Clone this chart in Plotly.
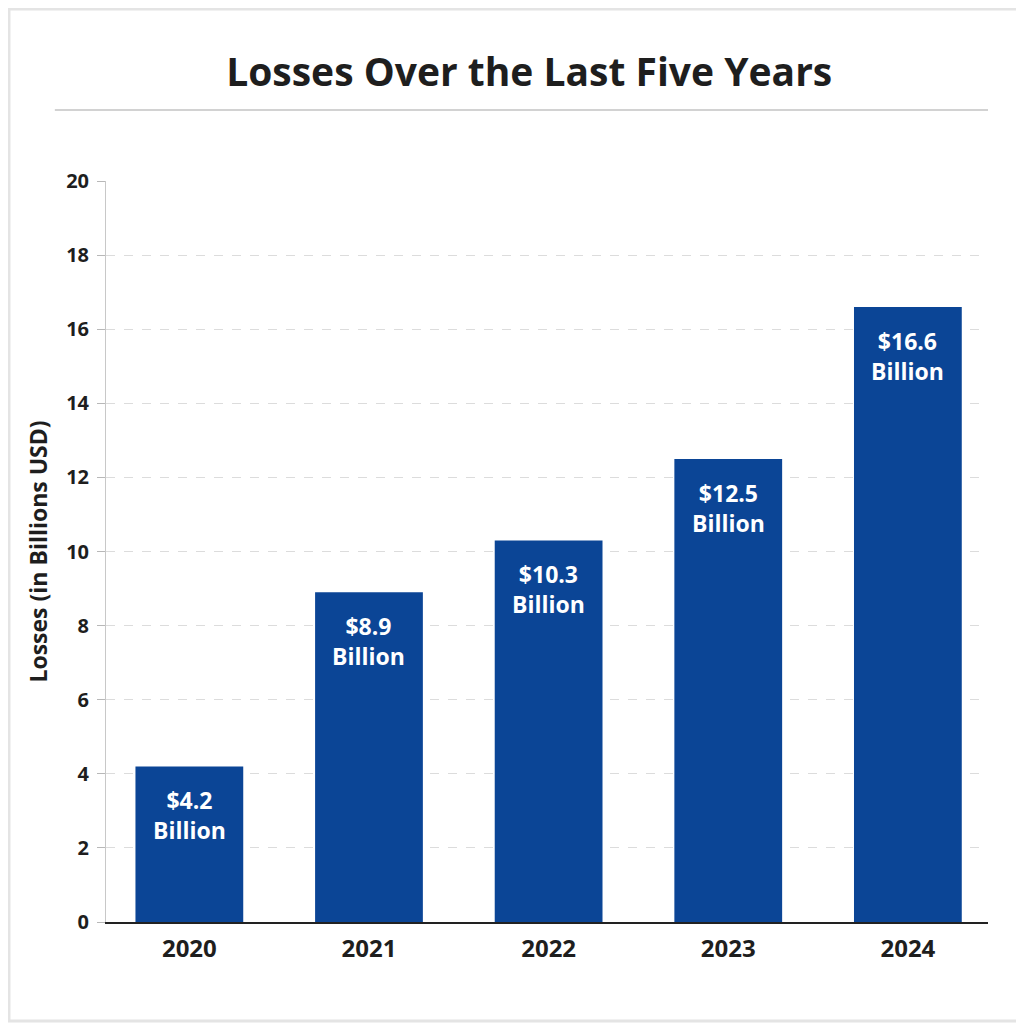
import plotly.graph_objects as go

years = ['2020', '2021', '2022', '2023', '2024']
losses = [4.2, 8.9, 10.3, 12.5, 16.6]
bar_labels = [f'${v}<br>Billion' for v in losses]
y_ticks = [0, 2, 4, 6, 8, 10, 12, 14, 16, 18, 20]

FONT = 'Open Sans'
BAR_COLOR = '#0b4596'
TEXT_COLOR = '#1e1e1e'

fig = go.Figure()
fig.add_trace(go.Bar(x=years, y=losses, marker_color=BAR_COLOR,
                     marker_line_width=0, hoverinfo='skip'))

# value labels near the top of each bar (x as category index)
for i, (v, lab) in enumerate(zip(losses, bar_labels)):
    fig.add_annotation(x=i, y=v, text=lab, showarrow=False,
                       yanchor='top', yshift=-16,
                       font=dict(family=FONT, size=23, color='white', weight='bold'))

# outer frame and separator under the title
fig.add_shape(type='rect', xref='paper', yref='paper',
              x0=-0.11, x1=1.0374, y0=-0.1336, y1=1.232,
              line=dict(color='#e4e4e4', width=3), layer='below')
fig.add_shape(type='line', xref='paper', yref='paper',
              x0=-0.058, x1=1.0, y0=1.0958, y1=1.0958,
              line=dict(color='#d2d2d2', width=2))

fig.update_layout(
    width=1024, height=1024,
    margin=dict(l=98, r=44, t=173, b=110),
    paper_bgcolor='white', plot_bgcolor='white',
    bargap=0.4,
    showlegend=False,
    title=dict(text='Losses Over the Last Five Years', x=0.509, xanchor='center',
               y=0.9375, yanchor='middle',
               font=dict(family=FONT, size=39, color=TEXT_COLOR, weight='bold')),
    font=dict(family=FONT, color=TEXT_COLOR),
)
fig.update_yaxes(range=[0, 20], tickvals=y_ticks,
                 showgrid=True, gridcolor='#dcdcdc', griddash='dash', gridwidth=1,
                 showline=True, linecolor='#c8c8c8', linewidth=1,
                 ticks='outside', ticklen=8, tickcolor='#b8b8b8',
                 ticklabelstandoff=4,
                 tickfont=dict(family=FONT, size=20, color=TEXT_COLOR, weight='bold'),
                 zeroline=False,
                 title=dict(text='Losses (in Billions USD)', standoff=12,
                            font=dict(family=FONT, size=23, color=TEXT_COLOR, weight='bold')))
fig.update_xaxes(type='category', range=[-0.464, 4.446],
                 showline=True, linecolor='#222222', linewidth=2,
                 ticks='', showgrid=False, ticklabelstandoff=4,
                 tickfont=dict(family=FONT, size=24, color=TEXT_COLOR, weight='bold'))

fig.write_html('out.html')
